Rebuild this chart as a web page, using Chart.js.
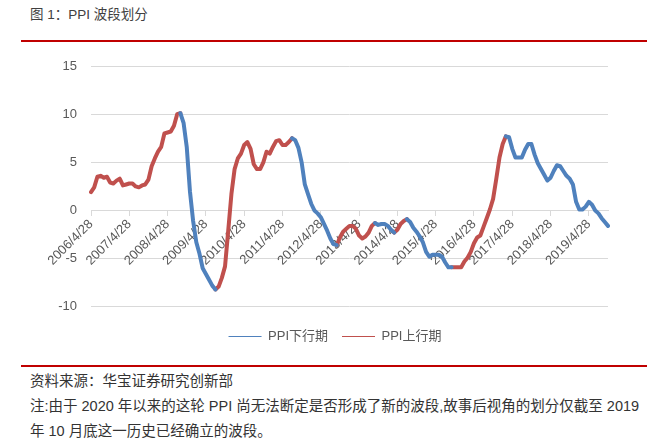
<!DOCTYPE html>
<html>
<head>
<meta charset="utf-8">
<script src="https://cdn.jsdelivr.net/npm/chart.js@4.4.1/dist/chart.umd.min.js"></script>
<style>
  html, body { margin: 0; padding: 0; background: #fff; }
  body { width: 647px; height: 446px; position: relative; overflow: hidden;
         font-family: "Liberation Sans", "Noto Sans CJK SC", sans-serif; }
  .title { position: absolute; left: 30px; top: 6px; font-size: 13.5px; line-height: 18px; color: #404040; }
  .rule { position: absolute; left: 21px; right: 0; height: 2px; background: #c00000; }
  #box { position: absolute; left: 0; top: 45px; width: 647px; height: 308px; }
  .note { position: absolute; left: 30px; top: 369px; font-size: 14.5px; line-height: 25px; color: #333; white-space: nowrap; }
</style>
</head>
<body>
<div class="title">图 1：PPI 波段划分</div>
<div class="rule" style="top:40px"></div>
<div id="box"><canvas id="ppiChart"></canvas></div>
<div class="rule" style="top:365px"></div>
<div class="note">
  <div>资料来源：华宝证券研究创新部</div>
  <div>注:由于 2020 年以来的这轮 PPI 尚无法断定是否形成了新的波段,故事后视角的划分仅截至 2019</div>
  <div>年 10 月底这一历史已经确立的波段。</div>
</div>
<script>
// PPI 同比 (%), 月度, 2006/4 ~ 2019/10
var startYear = 2006, startMonth = 4;
var ppi = [
  1.9, 2.4, 3.5, 3.6, 3.4, 3.5, 2.9, 2.8, 3.1,                  // 2006
  3.3, 2.6, 2.7, 2.8, 2.8, 2.5, 2.4, 2.6, 2.7, 3.2, 4.6, 5.4,   // 2007
  6.1, 6.6, 8.0, 8.1, 8.2, 8.8, 10.0, 10.1, 9.1, 6.6, 2.0, -1.1, // 2008
  -3.3, -4.5, -6.0, -6.6, -7.2, -7.8, -8.2, -7.9, -7.0, -5.8, -2.1, 1.7, // 2009
  4.3, 5.4, 5.9, 6.8, 7.1, 6.4, 4.8, 4.3, 4.3, 5.0, 6.1, 5.9,   // 2010
  6.6, 7.2, 7.3, 6.8, 6.8, 7.1, 7.5, 7.3, 6.5, 5.0, 2.7, 1.7,   // 2011
  0.7, 0.0, -0.3, -0.7, -1.4, -2.1, -2.9, -3.5, -3.6, -2.8, -2.2, -1.9, // 2012
  -1.6, -1.6, -1.9, -2.6, -2.9, -2.7, -2.3, -1.6, -1.3, -1.5, -1.4, -1.4, // 2013
  -1.6, -2.0, -2.3, -2.0, -1.4, -1.1, -0.9, -1.2, -1.8, -2.2, -2.7, -3.3, // 2014
  -4.3, -4.8, -4.6, -4.6, -4.6, -4.8, -5.4, -5.9, -5.9, -5.9, -5.9, -5.9, // 2015
  -5.3, -4.9, -4.3, -3.4, -2.8, -2.6, -1.7, -0.8, 0.1, 1.2, 3.3, 5.5,     // 2016
  6.9, 7.7, 7.6, 6.4, 5.5, 5.5, 5.5, 6.3, 6.9, 6.9, 5.8, 4.9,   // 2017
  4.3, 3.7, 3.1, 3.4, 4.1, 4.7, 4.6, 4.1, 3.6, 3.3, 2.7, 0.9,   // 2018
  0.1, 0.1, 0.4, 0.9, 0.6, 0.0, -0.3, -0.8, -1.2, -1.6          // 2019
];
// 波段拐点(在 ppi 中的序号), 第一段为上行
var turns = [0, 28, 39, 63, 77, 89, 95, 99, 113, 130, 162];
var seriesNames = ['PPI下行期', 'PPI上行期'];
var yTicks = [-10, -5, 0, 5, 10, 15];

// 月份标签
var labels = [];
for (var i = 0; i < ppi.length; i++) {
  var m = startMonth - 1 + i;
  labels.push((startYear + Math.floor(m / 12)) + '/' + (m % 12 + 1) + '/28');
}

// 按拐点拆成上行/下行两条序列
var downData = ppi.map(function () { return null; });
var upData = ppi.map(function () { return null; });
for (var k = 0; k < turns.length - 1; k++) {
  var target = (k % 2 === 0) ? upData : downData;
  for (var j = turns[k]; j <= turns[k + 1]; j++) target[j] = ppi[j];
}

var axisColor = '#d9d9d9';
var textColor = '#595959';
var font = { family: '"Liberation Sans", "Noto Sans CJK SC", sans-serif', size: 13 };

// 图例整体右移, 与原图居中位置一致
var legendShift = {
  id: 'legendShift',
  afterLayout: function (chart) {
    chart.legend.left += 31;
    chart.legend.right += 31;
  }
};

new Chart(document.getElementById('ppiChart'), {
  type: 'line',
  data: {
    labels: labels,
    datasets: [
      { label: seriesNames[0], data: downData, borderColor: '#4f81bd', backgroundColor: '#4f81bd' },
      { label: seriesNames[1], data: upData, borderColor: '#c0504d', backgroundColor: '#c0504d' }
    ]
  },
  plugins: [legendShift],
  options: {
    responsive: true,
    maintainAspectRatio: false,
    animation: false,
    layout: { padding: { left: 0, right: 39, top: 21, bottom: 0 } },
    elements: {
      line: { borderWidth: 4, tension: 0, borderJoinStyle: 'round', borderCapStyle: 'round' },
      point: { radius: 0, hoverRadius: 0, pointStyle: 'line' }
    },
    plugins: {
      tooltip: { enabled: false },
      legend: {
        position: 'bottom',
        title: { display: true, text: ' ', font: { size: 1 }, padding: { top: 0, bottom: 8 } },
        labels: {
          usePointStyle: true,
          pointStyle: 'line',
          pointStyleWidth: 33,
          padding: 14,
          color: textColor,
          font: font
        }
      }
    },
    scales: {
      x: {
        position: { y: 0 },
        grid: { drawOnChartArea: false, drawTicks: true, tickLength: 5, color: axisColor },
        border: { display: true, color: axisColor, width: 1 },
        ticks: {
          autoSkip: false,
          minRotation: 45,
          maxRotation: 45,
          padding: 1,
          color: textColor,
          font: font,
          callback: function (v, i) { return i % 12 === 0 ? labels[i] : null; }
        }
      },
      y: {
        min: yTicks[0],
        max: yTicks[yTicks.length - 1],
        afterBuildTicks: function (s) { s.ticks = yTicks.map(function (v) { return { value: v }; }); },
        afterFit: function (s) { s.width = 91; s.paddingTop = 0; s.paddingBottom = 0; },
        grid: { color: axisColor, drawTicks: false },
        border: { display: false },
        ticks: { padding: 14, color: textColor, font: font }
      }
    }
  }
});
</script>
</body>
</html>
